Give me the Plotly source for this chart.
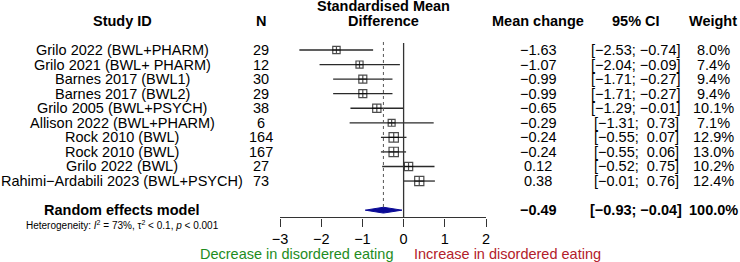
import plotly.graph_objects as go

studies = ["Grilo 2022 (BWL+PHARM)", "Grilo 2021 (BWL+ PHARM)", "Barnes 2017 (BWL1)",
           "Barnes 2017 (BWL2)", "Grilo 2005 (BWL+PSYCH)", "Allison 2022 (BWL+PHARM)",
           "Rock 2010 (BWL)", "Rock 2010 (BWL)", "Grilo 2022 (BWL)",
           "Rahimi\u2212Ardabili 2023 (BWL+PSYCH)"]
n_vals = [29, 12, 30, 29, 38, 6, 164, 167, 27, 73]
mean_change = [-1.63, -1.07, -0.99, -0.99, -0.65, -0.29, -0.24, -0.24, 0.12, 0.38]
ci_low = [-2.53, -2.04, -1.71, -1.71, -1.29, -1.31, -0.55, -0.55, -0.52, -0.01]
ci_high = [-0.74, -0.09, -0.27, -0.27, -0.01, 0.73, 0.07, 0.06, 0.75, 0.76]
weights = [8.0, 7.4, 9.4, 9.4, 10.1, 7.1, 12.9, 13.0, 10.2, 12.4]
pooled_mean = -0.49
pooled_low = -0.93
pooled_high = -0.04
pooled_weight = 100.0
tick_vals = [-3, -2, -1, 0, 1, 2]
tick_text = ["\u22123", "\u22122", "\u22121", "0", "1", "2"]

W, H = 740, 262
ROW0_PX, ROW_H = 50, 14.56
FONT = "Liberation Sans, Arial, sans-serif"
FS = 14.5

def fmt(v, d=2):
    s = f"{v:.{d}f}"
    return s.replace("-", "\u2212")

rows = list(range(len(studies)))
pooled_row = len(studies) + 1
het_row = pooled_row + 1
axis_row = pooled_row + 0.5
header_row = -2

fig = go.Figure()

# CI lines + squares
fig.add_trace(go.Scatter(
    x=mean_change, y=rows, mode="markers",
    marker=dict(symbol="square-cross-open", size=[2.6 * w ** 0.5 for w in weights],
                color="black", line=dict(width=1.2, color="black")),
    error_x=dict(type="data", symmetric=False,
                 array=[h - m for h, m in zip(ci_high, mean_change)],
                 arrayminus=[m - l for m, l in zip(mean_change, ci_low)],
                 width=0, thickness=1.3, color="#2a2a2a"),
    cliponaxis=False, showlegend=False, hoverinfo="skip"))

# diamond
dh = 0.2
fig.add_trace(go.Scatter(
    x=[pooled_low, pooled_mean, pooled_high, pooled_mean, pooled_low],
    y=[pooled_row, pooled_row - dh, pooled_row, pooled_row + dh, pooled_row],
    mode="lines", fill="toself", fillcolor="#0a0a96",
    line=dict(color="#0a0a96", width=1), showlegend=False, hoverinfo="skip"))

# reference lines
fig.add_shape(type="line", x0=0, x1=0, y0=-0.48, y1=axis_row, xref="x", yref="y",
              line=dict(color="#333333", width=1.3))
fig.add_shape(type="line", x0=pooled_mean, x1=pooled_mean, y0=-0.55, y1=pooled_row - 0.05,
              xref="x", yref="y", line=dict(color="#555555", width=1, dash="dot"))

ann = []
def txt(x_px, row, text, size=FS, bold=False, color="black", xanchor="center"):
    ann.append(dict(x=x_px / W, y=row, xref="paper", yref="y", text=f"<b>{text}</b>" if bold else text,
                    showarrow=False, xanchor=xanchor, yanchor="middle",
                    font=dict(family=FONT, size=size, color=color)))

col_study, col_n, col_mean, col_ci, col_w = 122, 261, 538, 636, 713
txt(col_study, header_row, "Study ID", bold=True)
txt(col_n, header_row, "N", bold=True)
txt(383, header_row - 1, "Standardised Mean", bold=True)
txt(383, header_row, "Difference", bold=True)
txt(col_mean, header_row, "Mean change", bold=True)
txt(col_ci, header_row, "95% CI", bold=True)
txt(col_w, header_row, "Weight", bold=True)

for i, s in enumerate(studies):
    txt(col_study, i, s)
    txt(col_n, i, str(n_vals[i]))
    txt(col_mean, i, fmt(mean_change[i]))
    lo = fmt(ci_low[i]); hi = fmt(ci_high[i])
    hi_s = hi if hi.startswith("\u2212") else "\u00a0" + hi
    txt(col_ci, i, f"[{lo};\u00a0{hi_s}]")
    txt(col_w, i, f"{weights[i]:.1f}%")

txt(col_study, pooled_row, "Random effects model", size=14.5, bold=True)
txt(col_mean, pooled_row, fmt(pooled_mean), bold=True)
txt(col_ci, pooled_row, f"[{fmt(pooled_low)}; {fmt(pooled_high)}]", bold=True)
txt(col_w, pooled_row, f"{pooled_weight:.1f}%", bold=True)
txt(col_study, het_row, "Heterogeneity: <i>I</i><sup>2</sup> = 73%, \u03c4<sup>2</sup> &lt; 0.1, <i>p</i> &lt; 0.001", size=10)

txt(395, het_row + 2, "Decrease in disordered eating", color="#1e8c1e", xanchor="right")
txt(412, het_row + 2, "Increase in disordered eating", color="#b3202a", xanchor="left")

fig.update_layout(
    width=W, height=H, margin=dict(l=0, r=0, t=0, b=0, autoexpand=False),
    paper_bgcolor="white", plot_bgcolor="white", annotations=ann,
    xaxis=dict(domain=[280 / W, 486 / W], range=[-3, 2], showgrid=False, zeroline=False,
               showline=True, linecolor="#333333", linewidth=1.3, ticks="outside", ticklen=8,
               tickwidth=1.3, tickcolor="#333333", tickvals=tick_vals, ticktext=tick_text,
               tickfont=dict(family=FONT, size=FS, color="black"), anchor="free", automargin=False,
               position=1 - (ROW0_PX + axis_row * ROW_H) / H),
    yaxis=dict(domain=[0, 1], range=[(H - ROW0_PX) / ROW_H, -ROW0_PX / ROW_H], visible=False,
               automargin=False),
)

fig.write_html("out.html", config={"displayModeBar": False},
               post_script="document.body.style.margin='0';document.body.style.overflow='hidden';")
